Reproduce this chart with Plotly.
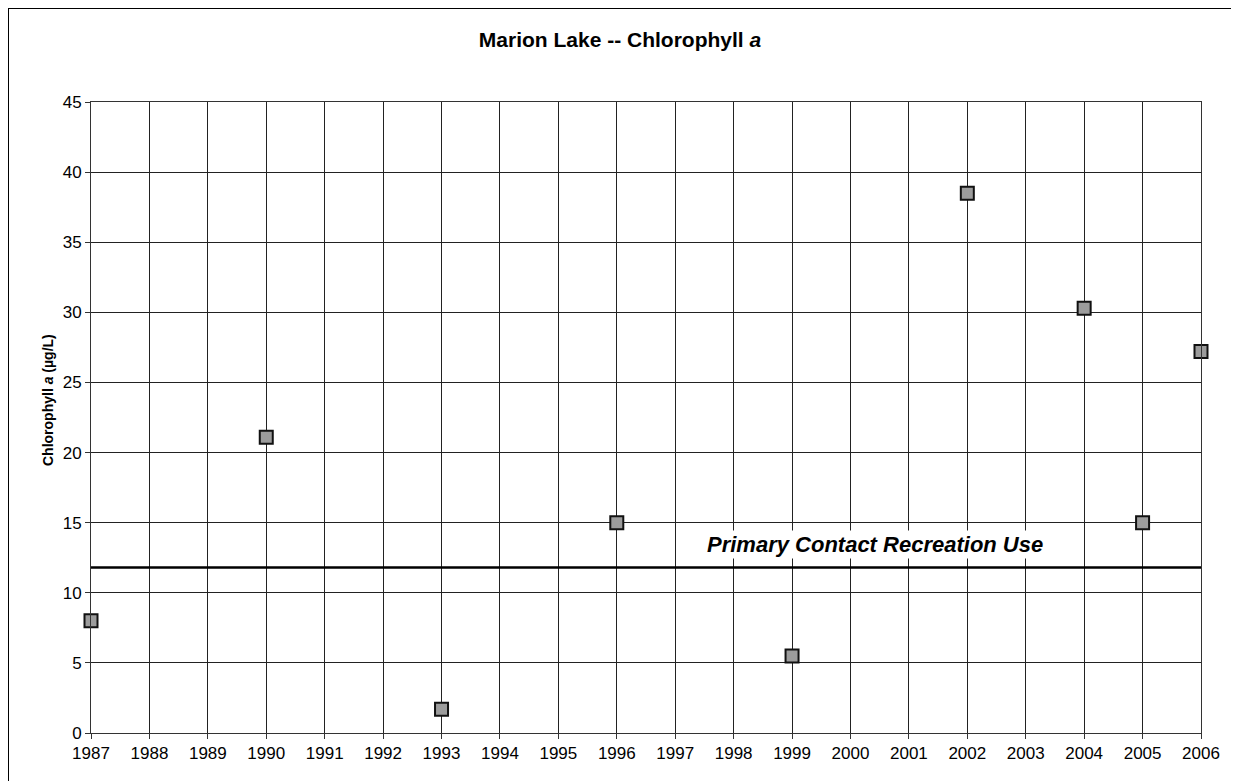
import plotly.graph_objects as go

# Jahre und Messwerte (Chlorophyll a, µg/L)
years = [1987, 1990, 1993, 1996, 1999, 2002, 2004, 2005, 2006]
chl_a = [8.0, 21.1, 1.7, 15.0, 5.5, 38.5, 30.3, 15.0, 27.2]

# Grenzwert fuer Primary Contact Recreation Use
criterion = 11.8
criterion_label = "Primary Contact Recreation Use"

x_ticks = list(range(1987, 2007))
y_ticks = list(range(0, 50, 5))

# Die Seite hat 8px Rand (body margin) -> Figur entsprechend kleiner
off = 8
W, H = 1239 - off, 781 - off
ml, mt = 91 - off, 102 - off
pw, ph = 1201 - 91, 733 - 102
mr, mb = W - ml - pw, H - mt - ph


def px_x(x):  # Seitenpixel -> paper-Koordinate
    return (x - off - ml) / pw


def px_y(y):
    return 1 - (y - off - mt) / ph


fig = go.Figure()

# Grenzwertlinie
fig.add_trace(go.Scatter(
    x=[x_ticks[0], x_ticks[-1]], y=[criterion, criterion],
    mode="lines", line=dict(color="black", width=2.5),
    hoverinfo="skip", showlegend=False,
))

# Messpunkte
fig.add_trace(go.Scatter(
    x=years, y=chl_a, mode="markers",
    marker=dict(symbol="square", size=13, color="#9c9c9c",
                line=dict(color="#111", width=2)),
    cliponaxis=False, showlegend=False,
))

fig.add_annotation(
    x=2000.42, y=criterion, yshift=23, text="<b><i>" + criterion_label + "</i></b>",
    showarrow=False, font=dict(size=22, color="black"),
    bgcolor="white",
)

# y-Achsentitel als Annotation (genauere Lage)
fig.add_annotation(
    xref="paper", yref="paper", x=px_x(38), y=px_y(400),
    text="<b>Chlorophyll <i>a</i> (µg/L)</b>", textangle=-90,
    showarrow=False, font=dict(size=14, color="black"),
)

# Rahmen um das ganze Diagramm (unten ausserhalb des Bildes)
fig.add_shape(
    type="rect", xref="paper", yref="paper",
    x0=px_x(8), x1=px_x(1237), y0=px_y(800), y1=px_y(8),
    line=dict(color="black", width=2), layer="above",
)

axis_common = dict(
    showline=True, linecolor="#333", linewidth=1,
    showgrid=True, gridcolor="#222", gridwidth=1,
    ticks="outside", ticklen=5, tickcolor="#333",
    zeroline=False, tickfont=dict(size=17, color="black"),
)

fig.update_layout(
    width=W, height=H,
    margin=dict(l=ml, r=mr, t=mt, b=mb),
    paper_bgcolor="white", plot_bgcolor="white",
    font=dict(family="Liberation Sans, Arial, sans-serif", color="black"),
    title=dict(text="<b>Marion Lake -- Chlorophyll <i>a</i></b>",
               x=(620 - off) / W, xanchor="center",
               y=1 - (40 - off) / H, yanchor="middle",
               font=dict(size=21)),
    xaxis=dict(range=[1987, 2006], tickvals=x_ticks, mirror=True, **axis_common),
    yaxis=dict(range=[0, 45], tickvals=y_ticks, mirror=True, **axis_common),
)

fig.write_html("out.html")
